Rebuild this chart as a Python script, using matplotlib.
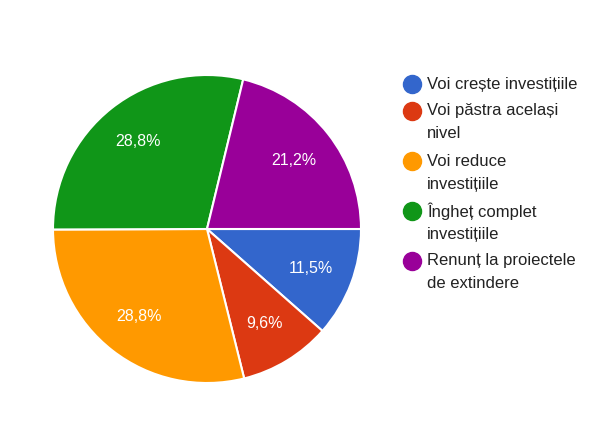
import matplotlib.pyplot as plt
from matplotlib.lines import Line2D

labels = ['Voi crește investițiile', 'Voi păstra același\nnivel', 'Voi reduce\ninvestițiile',
          'Îngheț complet\ninvestițiile', 'Renunț la proiectele\nde extindere']
values = [11.5, 9.6, 28.8, 28.8, 21.2]
colors = ['#3366cc', '#dc3912', '#ff9900', '#109618', '#990099']

plt.rcParams['font.family'] = ['Liberation Sans', 'DejaVu Sans']

W, H = 600, 428
fig = plt.figure(figsize=(6, 4.28), dpi=100)
cx, cy, r = 207, 229, 154
ax = fig.add_axes([(cx - r) / W, (H - cy - r) / H, 2 * r / W, 2 * r / H])
wedges, texts = ax.pie(values, colors=colors, startangle=0, counterclock=False,
                       labels=[f'{v:.1f}%'.replace('.', ',') for v in values],
                       labeldistance=0.72,
                       wedgeprops=dict(edgecolor='white', linewidth=1.5))
for t in texts:
    t.set_color('white')
    t.set_fontsize(11.5)
    t.set_ha('center')
    t.set_va('center')
ax.set_xlim(-1, 1)
ax.set_ylim(-1, 1)
ax.set_aspect('equal')

# legend drawn by hand to keep the wrapped layout
y = 84
for lab, col in zip(labels, colors):
    fig.add_artist(Line2D([412 / W], [1 - y / H], marker='o', markersize=13,
                          color=col, transform=fig.transFigure))
    for i, line in enumerate(lab.split('\n')):
        fig.text(427 / W, 1 - (y + i * 23) / H, line, fontsize=12,
                 color='#222222', va='center', ha='left')
    y += 23 * len(lab.split('\n')) + 4

fig.savefig('out.png', dpi=100)
